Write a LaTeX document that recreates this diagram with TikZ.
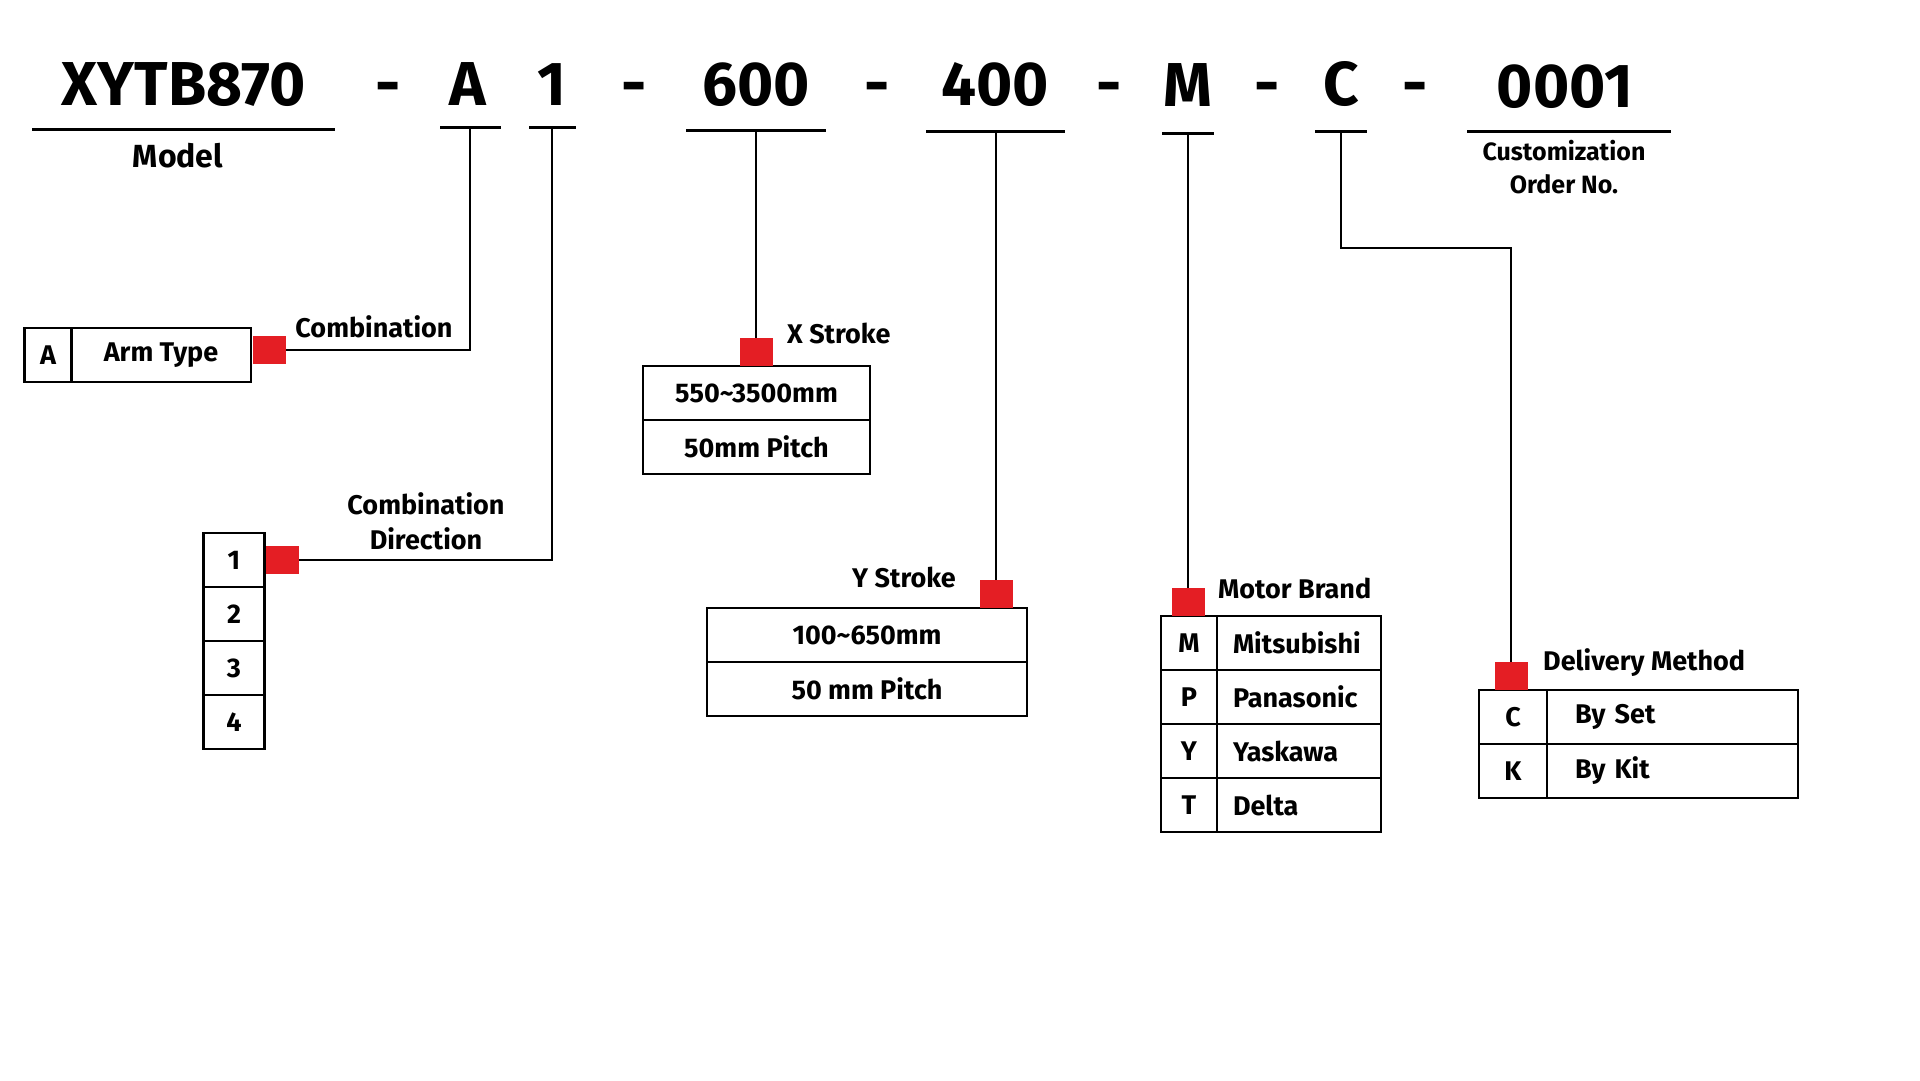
\documentclass[tikz,border=0pt]{standalone}
\usepackage{fontspec}
\setmainfont{Fira Sans}
\usepackage{tikz}
\definecolor{tagred}{RGB}{228,30,36}

\begin{document}
\begin{tikzpicture}[x = 1pt, y = -1pt,
  code/.style = {font = \fontsize{62}{62}\selectfont\bfseries, inner sep = 0pt, anchor = base},
  lbl/.style = {font = \fontsize{27}{35}\selectfont\bfseries, inner sep = 0pt},
  cell/.style = {draw, line width = 2.8pt, minimum height = 54pt, inner sep = 0pt,
    font = \fontsize{27}{27}\selectfont\bfseries},
  namecell/.style = {cell, align = left},
  redsq/.style = {fill = tagred, minimum width = 33pt, minimum height = 28pt, inner sep = 0pt},
  uline/.style = {line width = 3pt},
  wire/.style = {line width = 2.6pt}]
\fill [white] (0, 0) rectangle (1920, 1080);
\useasboundingbox (0, 0) rectangle (1920, 1080);

% part number
\node (model) at (184, 105) [code] {XYTB870};
\node (dash1) at (388, 105) [code] {-};
\node (armcode) at (468, 105) [code] {A};
\node (dircode) at (552, 105) [code] {1};
\node (dash2) at (634, 105) [code] {-};
\node (xcode) at (756, 105) [code] {600};
\node (dash3) at (877, 105) [code] {-};
\node (ycode) at (995, 105) [code] {400};
\node (dash4) at (1109, 105) [code] {-};
\node (motorcode) at (1188, 106) [code] {M};
\node (dash5) at (1267, 105) [code] {-};
\node (delcode) at (1341, 105) [code] {C};
\node (dash6) at (1415, 105) [code] {-};
\node (ordercode) at (1565, 107) [code] {0001};

% underlines
\draw [uline] (32, 129) -- (335, 129);
\draw [uline] (440, 127) -- (501, 127);
\draw [uline] (529, 127) -- (576, 127);
\draw [uline] (686, 130) -- (826, 130);
\draw [uline] (926, 131) -- (1065, 131);
\draw [uline] (1162, 133) -- (1214, 133);
\draw [uline] (1315, 131) -- (1367, 131);
\draw [uline] (1467, 131) -- (1671, 131);
\coordinate (ulA) at (470, 127);
\coordinate (ul1) at (552, 127);
\coordinate (ul600) at (756, 130);
\coordinate (ul400) at (996, 131);
\coordinate (ulM) at (1188, 133);
\coordinate (ulC) at (1341, 131);

\node (lblmodel) at (178, 167) [lbl, anchor = base, font = \fontsize{32}{32}\selectfont\bfseries] {Model};
\node (lblorder) at (1564, 167) [lbl, align = center, font = \fontsize{25}{33}\selectfont\bfseries] {Customization\\Order No.};

% arm type
\node (armA) at (48, 355) [cell, minimum width = 46.5pt] {A};
\node (armT) at (161, 355) [cell, minimum width = 180pt] {Arm Type};
\node (sqArm) at (269, 350) [redsq] {};
\node (lblcomb) at (374, 337) [lbl, anchor = base] {Combination};

% combination direction
\node (dir1) at (234, 560) [cell, minimum width = 61.5pt] {1};
\node (dir2) at (234, 614) [cell, minimum width = 61.5pt] {2};
\node (dir3) at (234, 668) [cell, minimum width = 61.5pt] {3};
\node (dir4) at (234, 722) [cell, minimum width = 61.5pt] {4};
\node (sqDir) at (282.5, 560) [redsq] {};
\node (lbldir) at (426, 521) [lbl, align = center] {Combination\\Direction};

% x stroke
\node (xrange) at (756.5, 393) [cell, minimum width = 227pt] {550\textasciitilde3500mm};
\node (xpitch) at (756.5, 447) [cell, minimum width = 227pt] {50mm Pitch};
\node (sqX) at (756, 352) [redsq] {};
\node (lblx) at (787, 343) [lbl, anchor = base west] {X Stroke};

% y stroke
\node (yrange) at (867, 635) [cell, minimum width = 320pt] {100\textasciitilde650mm};
\node (ypitch) at (867, 689) [cell, minimum width = 320pt] {50 mm Pitch};
\node (sqY) at (996, 594) [redsq] {};
\node (lbly) at (852, 587) [lbl, anchor = base west] {Y Stroke};

% motor brand
\node (motM) at (1189, 643) [cell, minimum width = 56pt] {M};
\node (motP) at (1189, 697) [cell, minimum width = 56pt] {P};
\node (motY) at (1189, 751) [cell, minimum width = 56pt] {Y};
\node (motT) at (1189, 805) [cell, minimum width = 56pt] {T};
\node (motMn) at (1299, 643) [namecell, text width = 132pt, inner xsep = 16pt] {Mitsubishi};
\node (motPn) at (1299, 697) [namecell, text width = 132pt, inner xsep = 16pt] {Panasonic};
\node (motYn) at (1299, 751) [namecell, text width = 132pt, inner xsep = 16pt] {Yaskawa};
\node (motTn) at (1299, 805) [namecell, text width = 132pt, inner xsep = 16pt] {Delta};
\node (sqM) at (1188, 602) [redsq] {};
\node (lblmotor) at (1218, 598) [lbl, anchor = base west] {Motor Brand};

% delivery method
\node (delC) at (1513, 717) [cell, minimum width = 68pt] {C};
\node (delK) at (1513, 771) [cell, minimum width = 68pt] {K};
\node (delCn) at (1672.5, 717) [namecell, text width = 195pt, inner xsep = 28pt] {By Set};
\node (delKn) at (1672.5, 771) [namecell, text width = 195pt, inner xsep = 28pt] {By Kit};
\node (sqC) at (1511, 676) [redsq] {};
\node (lbldel) at (1543, 670) [lbl, anchor = base west] {Delivery Method};

% connectors
\draw [wire] (ulA) |- (sqArm.east);
\draw [wire] (ul1) |- (sqDir.east);
\draw [wire] (ul600) -- (sqX.north);
\draw [wire] (ul400) -- (sqY.north);
\draw [wire] (ulM) -- (sqM.north);
\coordinate (bendC) at (1511, 248);
\draw [wire] (ulC) |- (bendC) -- (sqC.north);
\end{tikzpicture}
\end{document}
